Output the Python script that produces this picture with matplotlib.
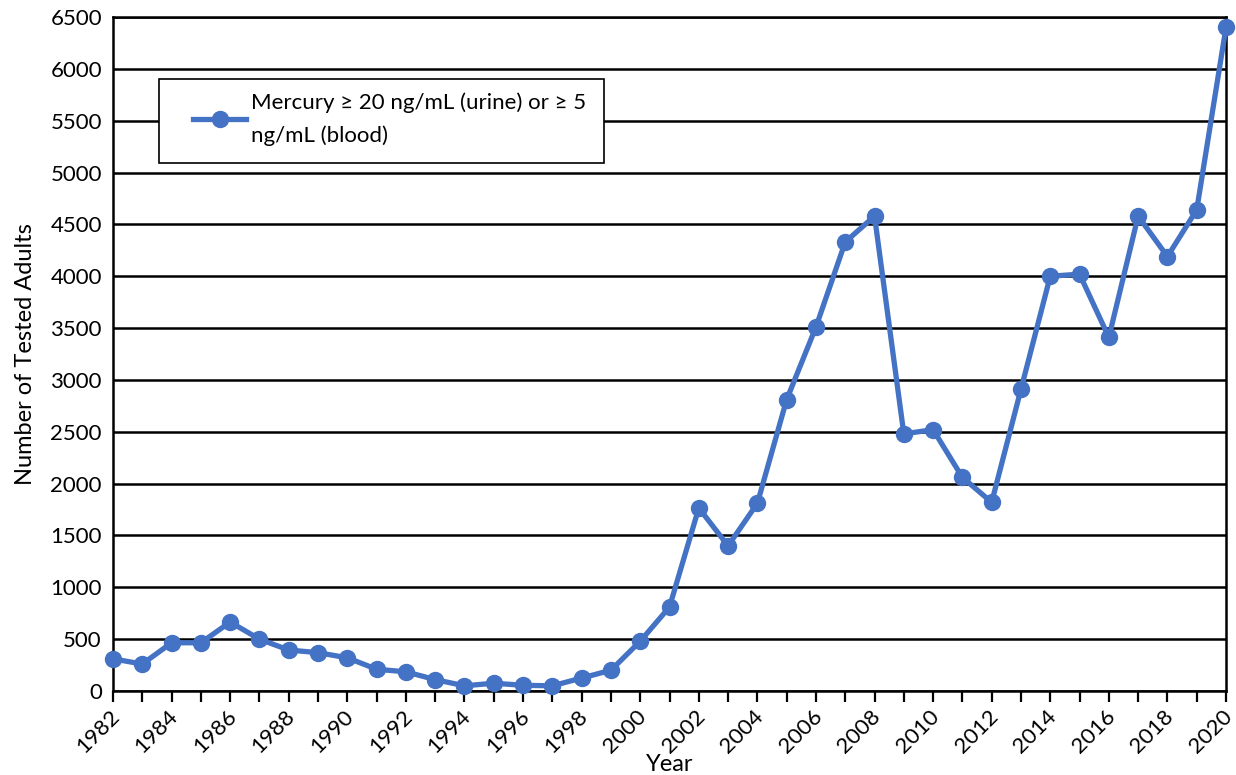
import matplotlib
matplotlib.use("Agg")
import matplotlib.pyplot as plt
import matplotlib.transforms as mtransforms
from matplotlib.patches import Rectangle

plt.rcParams['font.family'] = ['Lato', 'DejaVu Sans']

years = list(range(1982, 2021))
adults = [310, 260, 465, 465, 665, 500, 395, 370, 320, 210,
          185, 110, 50, 75, 55, 50, 125, 200, 480, 810,
          1765, 1400, 1810, 2810, 3510, 4330, 4580, 2480, 2520, 2060,
          1820, 2910, 4000, 4020, 3410, 4580, 4190, 4640, 6400]
label = 'Mercury \u2265 20 ng/mL (urine) or \u2265 5\nng/mL (blood)'
tick_years = list(range(1982, 2021, 2))

W, H = 1236, 775
fig = plt.figure(figsize=(W/100, H/100), dpi=100)
ax = fig.add_axes([113/W, 1 - 691/H, (1226-113)/W, (691-17)/H])

ax.plot(years, adults, color='#4472C4', lw=3.8, marker='o', ms=11.5,
        label=label, zorder=3, clip_on=False)

ax.set_xlim(1982, 2020)
ax.set_ylim(0, 6500)
ax.set_yticks(range(0, 6501, 500))
ax.yaxis.grid(True, color='black', lw=1.8)
ax.set_axisbelow(True)
ax.tick_params(axis='y', length=0, labelsize=16, pad=8)

ax.set_xticks(years, minor=True)
ax.set_xticks(tick_years)
ax.set_xticklabels([str(y) for y in tick_years], rotation=45, ha='right',
                   rotation_mode='anchor', fontsize=16)
ax.tick_params(axis='x', which='both', length=8, width=1.6, direction='out', pad=3)
shift = mtransforms.ScaledTranslation(-4/100, 0, fig.dpi_scale_trans)
for t in ax.get_xticklabels():
    t.set_transform(t.get_transform() + shift)

for s in ['left', 'right', 'bottom', 'top']:
    ax.spines[s].set_linewidth(1.8)
    ax.spines[s].set_color('black')

ax.set_xlabel('Year', fontsize=17)
ax.xaxis.set_label_coords(0.5, -0.094)
ax.set_ylabel('Number of Tested Adults', fontsize=17, labelpad=10)

# legend box drawn separately so it can be wider than its content
ax.add_patch(Rectangle((159/W, 1 - 163/H), (604-159)/W, (163-79)/H,
                       transform=fig.transFigure, facecolor='white',
                       edgecolor='black', lw=1.2, zorder=4, clip_on=False))
leg = ax.legend(loc='upper left', bbox_to_anchor=(193/W, 1 - 92/H),
                bbox_transform=fig.transFigure, fontsize=16, frameon=False,
                handlelength=2.4, borderpad=0, handletextpad=0.2, borderaxespad=0)
leg.get_texts()[0].set_linespacing(1.8)
leg.set_zorder(6)

fig.savefig('out.png', dpi=100)
